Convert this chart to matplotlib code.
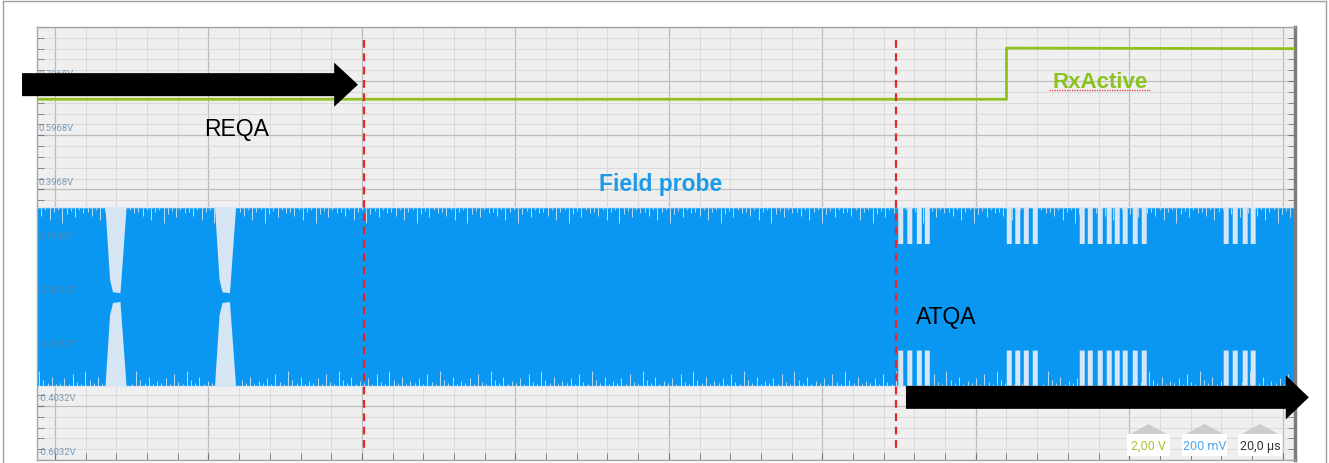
import matplotlib
matplotlib.use("Agg")
import matplotlib.pyplot as plt
import numpy as np
from matplotlib.patches import Rectangle, Polygon
from matplotlib.lines import Line2D

plt.rcParams['font.family'] = ['Liberation Sans', 'DejaVu Sans']

# time axis in microseconds (20 us / div), vertical axis in volts (200 mV / div)
t_lim = (-2.35, 161.6)
v_lim = (-0.6, 1.0)

# RxActive trace (green)
rx_t = [-2.35, 124.0, 124.0, 161.6]
rx_v = [0.733, 0.733, 0.922, 0.920]

# field probe carrier envelope (V)
carrier_top = 0.330
carrier_bot = -0.326

# REQA modulation pauses: envelope points (us, relative amplitude)
pause_t = [6.58, 7.17, 7.56, 8.53, 9.32,
           20.85, 21.44, 21.83, 22.80, 23.59]
pause_amp = [1.0, 0.2, 0.06, 0.05, 1.0,
             1.0, 0.2, 0.06, 0.05, 1.0]

# ATQA load modulation slits (centre times, us)
slit_t = [110.22, 111.40, 112.64, 113.68,
          124.36, 125.47, 126.58, 127.75,
          133.87, 134.92, 136.22, 137.39, 138.43, 139.47, 140.78, 141.95,
          152.63, 153.81, 155.11, 156.15]
slit_amp = 0.6
slit_w = 0.65

# ripple on the envelope edges (depth in V, repeated along the trace)
ripple_depth = [0.012, 0.028, 0.007, 0.045, 0.015, 0.006, 0.055, 0.02, 0.01, 0.033,
                0.008, 0.018]
ripple_step = 0.55

# markers
marker_t = [40.26, 109.58]

# scope level labels
level_vals = [0.8, 0.6, 0.4, 0.2, 0.0, -0.2, -0.4, -0.6]
level_labels = ["0.7968V", "0.5968V", "0.3968V", "0.1968V",
                "-0.0032V", "-0.2032V", "-0.4032V", "-0.6032V"]

# build the envelope
env_t = [t_lim[0] - 5]
env_a = [1.0]
env_t += pause_t
env_a += pause_amp
for c in slit_t:
    env_t += [c - slit_w / 2, c - slit_w / 2, c + slit_w / 2, c + slit_w / 2]
    env_a += [1.0, slit_amp, slit_amp, 1.0]
env_t.append(t_lim[1] + 5)
env_a.append(1.0)
env_t = np.array(env_t)
env_a = np.array(env_a)

blue = '#0a97f2'
light = '#d6e6f4'
green = '#92c11f'

fig = plt.figure(figsize=(13.29, 4.64), dpi=100)
ax = fig.add_axes([37 / 1329, 3 / 464, 1258 / 1329, 433 / 464])
ax.set_facecolor('#efefef')

ax.set_xlim(*t_lim)
ax.set_ylim(*v_lim)
ax.set_xticks(np.arange(0, 161, 20))
ax.set_xticks(np.arange(0, 162, 4), minor=True)
ax.set_yticks(np.arange(-0.6, 1.01, 0.2))
ax.set_yticks(np.arange(-0.6, 1.01, 0.04), minor=True)
ax.grid(which='major', color='#bdbdbd', lw=0.9, zorder=0)
ax.grid(which='minor', color='#dadada', lw=0.7, zorder=0)
ax.set_axisbelow(True)
ax.tick_params(which='both', direction='in', left=True, right=True, bottom=True, top=False,
               labelleft=False, labelbottom=False, color='#777777')
ax.tick_params(which='major', length=5)
ax.tick_params(which='minor', length=5)
for s in ['left', 'top', 'bottom']:
    ax.spines[s].set_color('#a5a5a5')
    ax.spines[s].set_linewidth(1)
ax.spines['right'].set_color('#7d7d7d')
ax.spines['right'].set_linewidth(2.5)

# field probe
ax.fill_between([t_lim[0] - 5, t_lim[1] + 5], carrier_bot - 0.004, carrier_top + 0.004,
                color=light, lw=0, zorder=1)
ax.fill_between(env_t, env_a * carrier_bot, env_a * carrier_top, color=blue, lw=0, zorder=2)
# ragged edges of the carrier
rt = np.arange(t_lim[0], t_lim[1], ripple_step)
full = np.interp(rt, env_t, env_a) > 0.99
depth = np.resize(ripple_depth, len(rt))
depth_b = np.roll(depth, 5)
ax.vlines(rt[full], carrier_top - depth[full], carrier_top + 0.002,
          color=light, lw=0.7, alpha=0.85, zorder=2.5)
ax.vlines(rt[full] + 0.27, carrier_bot - 0.002, carrier_bot + depth_b[full],
          color=light, lw=0.7, alpha=0.85, zorder=2.5)

# RxActive
ax.plot(rx_t, rx_v, color=green, lw=2.0, zorder=3)

# level labels
for v, lab in zip(level_vals, level_labels):
    ax.annotate(lab, xy=(0.0015, v), xycoords=('axes fraction', 'data'),
                xytext=(0, 4), textcoords='offset points', va='baseline', ha='left',
                fontsize=6.8, family='Roboto', color='#5d86aa', alpha=0.8, zorder=4)

# marker lines
for mt in marker_t:
    ax.plot([mt, mt], [0.952, -0.559], color='#e5262b', lw=1.6, ls=(0, (3.5, 2.5)), zorder=5)

# arrows
ax.arrow(-4.30, 0.787, 43.78, 0, width=0.085, head_width=0.163, head_length=3.1,
         length_includes_head=True, color='black', lw=0, clip_on=False, zorder=6)
ax.arrow(110.9, -0.3685, 52.5, 0, width=0.085, head_width=0.163, head_length=3.0,
         length_includes_head=True, color='black', lw=0, clip_on=False, zorder=6)

# annotations
ax.text(23.7, 0.601, "REQA", fontsize=16.5, ha='center', va='baseline', color='black', zorder=7)
ax.text(116.2, -0.0937, "ATQA", fontsize=16.5, ha='center', va='baseline', color='black', zorder=7)
ax.text(78.96, 0.396, "Field probe", fontsize=16.5, fontweight='bold', ha='center',
        va='baseline', color='#1a9be9', zorder=7)
ax.text(136.2, 0.777, "RxActive", fontsize=16, fontweight='bold', ha='center',
        va='baseline', color='#8cc21e', zorder=7)
ax.plot([129.6, 142.7], [0.767, 0.767], color='#e03030', lw=0.9, ls=(0, (1, 1)), zorder=7)

# scale boxes at bottom right
boxes = [(0.8665, 0.0342, "2,00 V", '#a7c43a'),
         (0.9102, 0.0358, "200 mV", '#52a6ea'),
         (0.9547, 0.0350, "20,0 µs", '#333333')]
for x0, w, txt, col in boxes:
    ax.add_patch(Polygon([[x0, 0.0554], [x0 + w, 0.0554], [x0 + w / 2, 0.0831]],
                         closed=True, transform=ax.transAxes, color='#cdcdcd', lw=0, zorder=8))
    ax.add_patch(Rectangle((x0, 0.0092), w, 0.0508, transform=ax.transAxes,
                           facecolor='white', edgecolor='none', zorder=8))
    ax.text(x0 + w / 2, 0.0346, txt, transform=ax.transAxes, ha='center', va='center',
            fontsize=9, family='Roboto', color=col, zorder=9)

# outer frame
fc = '#a0a0a0'
fig.add_artist(Line2D([3 / 1329, 3 / 1329], [0, 1 - 2 / 464], color=fc, lw=1))
fig.add_artist(Line2D([1326 / 1329, 1326 / 1329], [0, 1 - 2 / 464], color=fc, lw=1))
fig.add_artist(Line2D([3 / 1329, 1326 / 1329], [1 - 2 / 464, 1 - 2 / 464], color=fc, lw=1))

fig.savefig("out.png", dpi=100)
